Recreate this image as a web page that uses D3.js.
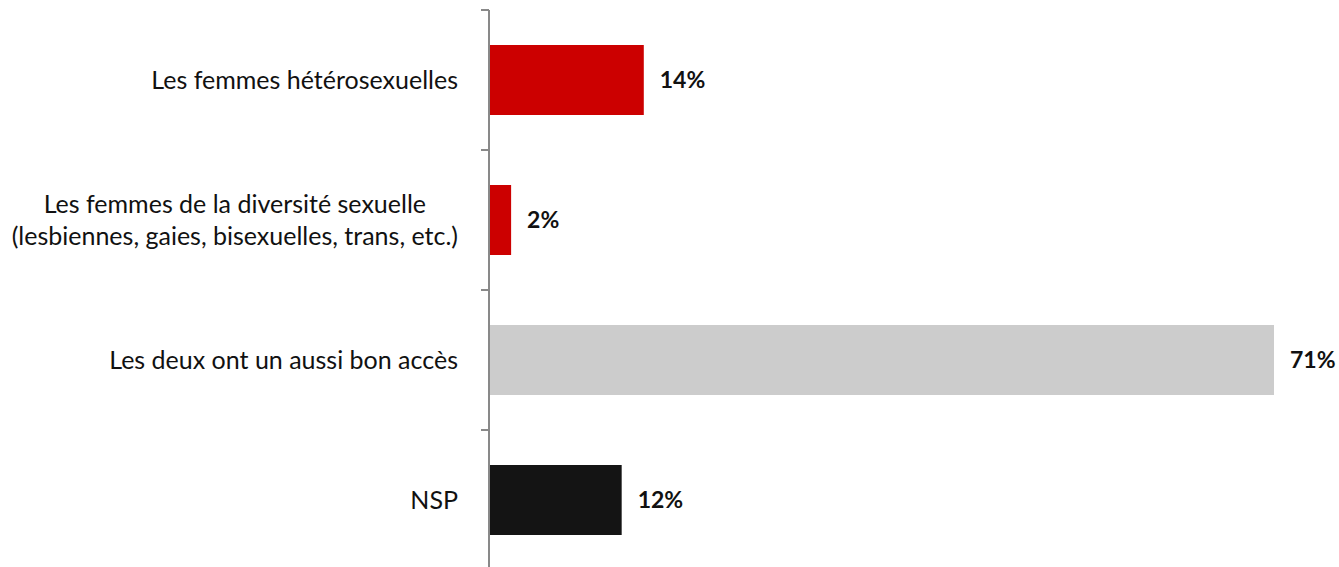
<!DOCTYPE html>
<html>
<head>
<meta charset="utf-8">
<script src="https://cdn.jsdelivr.net/npm/d3@7"></script>
<style>
  body { margin: 0; background: #fff; }
  svg { display: block; font-family: Lato, "Open Sans", sans-serif; }
</style>
</head>
<body>
<div id="vis"></div>
<script>
var categories = [
    ["Les femmes hétérosexuelles"],
    ["Les femmes de la diversité sexuelle", "(lesbiennes, gaies, bisexuelles, trans, etc.)"],
    ["Les deux ont un aussi bon accès"],
    ["NSP"]
];
var values = [14, 2, 71, 12];
var barColors = ["#cc0000", "#cc0000", "#cccccc", "#141414"];

var width = 1339, height = 567;
var axisX = 489;

var svg = d3.select("#vis")
    .append("svg")
    .attr("width", width)
    .attr("height", height);

var y = d3.scaleBand()
    .domain(d3.range(values.length))
    .range([10, 570])
    .paddingInner(0.5)
    .paddingOuter(0.25);

var x = d3.scaleLinear()
    .domain([0, 71])
    .range([axisX, 1274]);

// category axis: line with ticks between bands
var axis = svg.append("g").attr("class", "axis");
axis.append("line")
    .attr("x1", axisX).attr("x2", axisX)
    .attr("y1", 10).attr("y2", height)
    .attr("stroke", "#898989").attr("stroke-width", 2);

var step = y.step();
axis.selectAll("line.tick")
    .data(d3.range(values.length))
    .enter().append("line")
    .attr("class", "tick")
    .attr("x1", axisX - 8).attr("x2", axisX)
    .attr("y1", (d, i) => y(i) - step * 0.25)
    .attr("y2", (d, i) => y(i) - step * 0.25)
    .attr("stroke", "#898989").attr("stroke-width", 2);

svg.selectAll("rect.bar")
    .data(values)
    .enter().append("rect")
    .attr("class", "bar")
    .attr("x", x(0) + 1)
    .attr("y", (d, i) => y(i))
    .attr("width", d => x(d) - x(0) - 1)
    .attr("height", y.bandwidth())
    .attr("fill", (d, i) => barColors[i]);

svg.selectAll("text.value")
    .data(values)
    .enter().append("text")
    .attr("class", "value")
    .attr("x", d => x(d) + 16)
    .attr("y", (d, i) => y(i) + y.bandwidth() / 2)
    .attr("dy", "0.36em")
    .style("font-size", "23px")
    .style("font-weight", "bold")
    .attr("fill", "#111")
    .text(d => d + "%");

var labels = svg.selectAll("text.label")
    .data(categories)
    .enter().append("text")
    .attr("class", "label")
    .attr("text-anchor", "middle")
    .style("font-size", "25px")
    .attr("fill", "#111");

labels.each(function (d, i) {
    var t = d3.select(this);
    var cy = y(i) + y.bandwidth() / 2;
    var lh = 32;
    d.forEach(function (line, j) {
        t.append("tspan")
            .attr("y", cy + (j - (d.length - 1) / 2) * lh)
            .attr("dy", "0.36em")
            .text(line);
    });
});

// right-align the block, center lines within it like the original
labels.each(function () {
    var t = d3.select(this);
    var tspans = t.selectAll("tspan").nodes();
    var w = d3.max(tspans, n => n.getComputedTextLength());
    var cx = axisX - 31 - w / 2;
    t.selectAll("tspan").attr("x", cx);
});
</script>
</body>
</html>
